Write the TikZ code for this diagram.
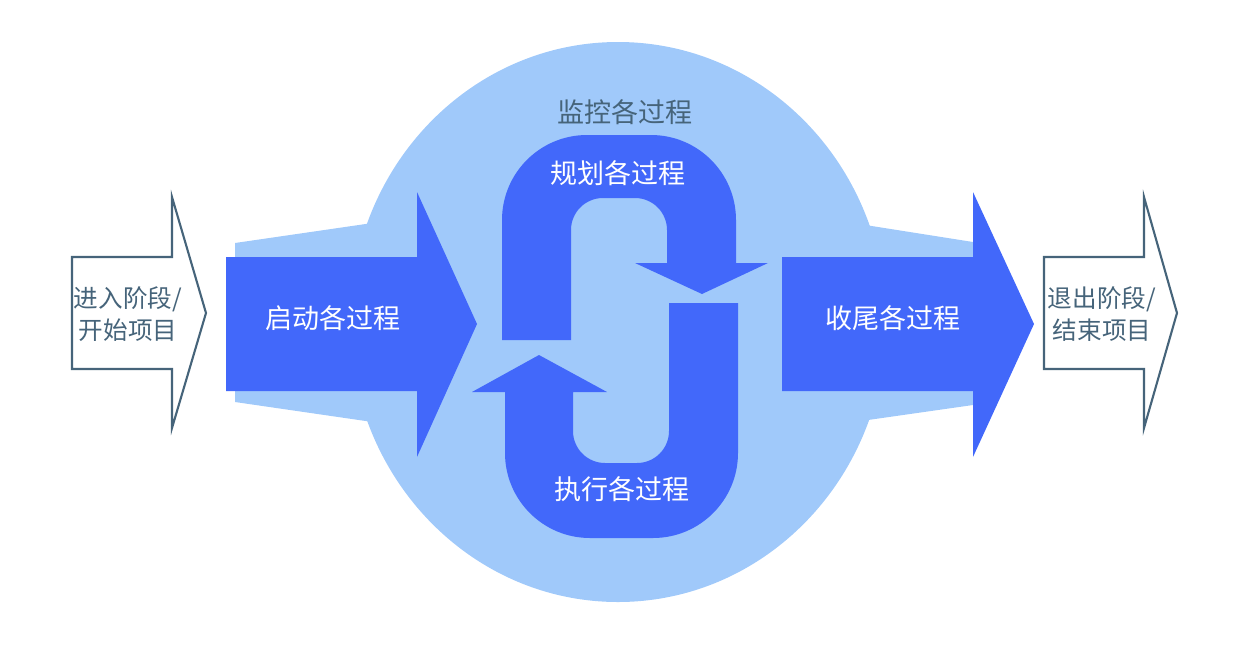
\documentclass[tikz,border=0pt]{standalone}
\usepackage{fontspec}
\newfontfamily\cjk{Noto Sans CJK SC}
\definecolor{darkblue}{RGB}{66,104,250}
\definecolor{lightblue}{RGB}{160,201,250}
\definecolor{slate}{RGB}{70,100,122}
\tikzset{
    phase/.style={draw=slate, line width=1.2pt, fill=white},
    whitelabel/.style={text=white, font=\cjk\fontsize{15.4pt}{18pt}\selectfont},
    slatelabel/.style={text=slate, font=\cjk\fontsize{14pt}{18pt}\selectfont, align=center}
}
\begin{document}
\begin{tikzpicture}[x=0.02cm, y=-0.02cm]
    \useasboundingbox (0,0) rectangle (1251,653);

    \coordinate (MC) at (618,322);

    % monitoring background
    \fill[lightblue] (MC) ellipse [x radius=268, y radius=280];
    \fill[lightblue] (235,243) -- (400,219) -- (400,426) -- (235,402) -- cycle;
    \fill[lightblue] (973,242) -- (840,221) -- (840,424) -- (973,405) -- cycle;

    % entry and exit phases
    \draw[phase] (72,257) -- (172,257) -- (172,197) -- (206,313) -- (172,428) -- (172,369) -- (72,369) -- cycle;
    \draw[phase] (1044,257) -- (1144,257) -- (1144,197) -- (1177,313) -- (1144,428) -- (1144,369) -- (1044,369) -- cycle;

    % initiating and closing
    \fill[darkblue] (226,257) -- (417,257) -- (417,192) -- (477,324) -- (417,457) -- (417,391) -- (226,391) -- cycle;
    \fill[darkblue] (782,257) -- (973,257) -- (973,192) -- (1034,324) -- (973,457) -- (973,391) -- (782,391) -- cycle;

    % planning
    \fill[darkblue] (502,340) -- (502,220) arc [start angle=180, end angle=270, radius=85]
        -- (651,135) arc [start angle=270, end angle=360, radius=85]
        -- (736,263) -- (768,263) -- (702,294) -- (635,263) -- (667,263)
        -- (667,230) arc [start angle=0, end angle=-90, radius=32]
        -- (603,198) arc [start angle=270, end angle=180, radius=32]
        -- (571,340) -- cycle;

    % executing
    \fill[darkblue] (669,303) -- (738,303) -- (738,453) arc [start angle=0, end angle=90, radius=85]
        -- (590,538) arc [start angle=90, end angle=180, radius=85]
        -- (505,392) -- (472,392) -- (539,355) -- (607,392) -- (573,392)
        -- (573,431) arc [start angle=180, end angle=90, radius=32]
        -- (637,463) arc [start angle=90, end angle=0, radius=32]
        -- cycle;

    \node[slatelabel] (enter) at (128,314) {进入阶段/\\开始项目};
    \node[slatelabel] (exit) at (1102,314) {退出阶段/\\结束项目};
    \node[whitelabel] (init) at (333,318) {启动各过程};
    \node[whitelabel] (close) at (893,318) {收尾各过程};
    \node[whitelabel] (plan) at (618,173) {规划各过程};
    \node[whitelabel] (exec) at (622,489) {执行各过程};
    \node[whitelabel, text=slate] (monitor) at (625,112) {监控各过程};
\end{tikzpicture}
\end{document}
